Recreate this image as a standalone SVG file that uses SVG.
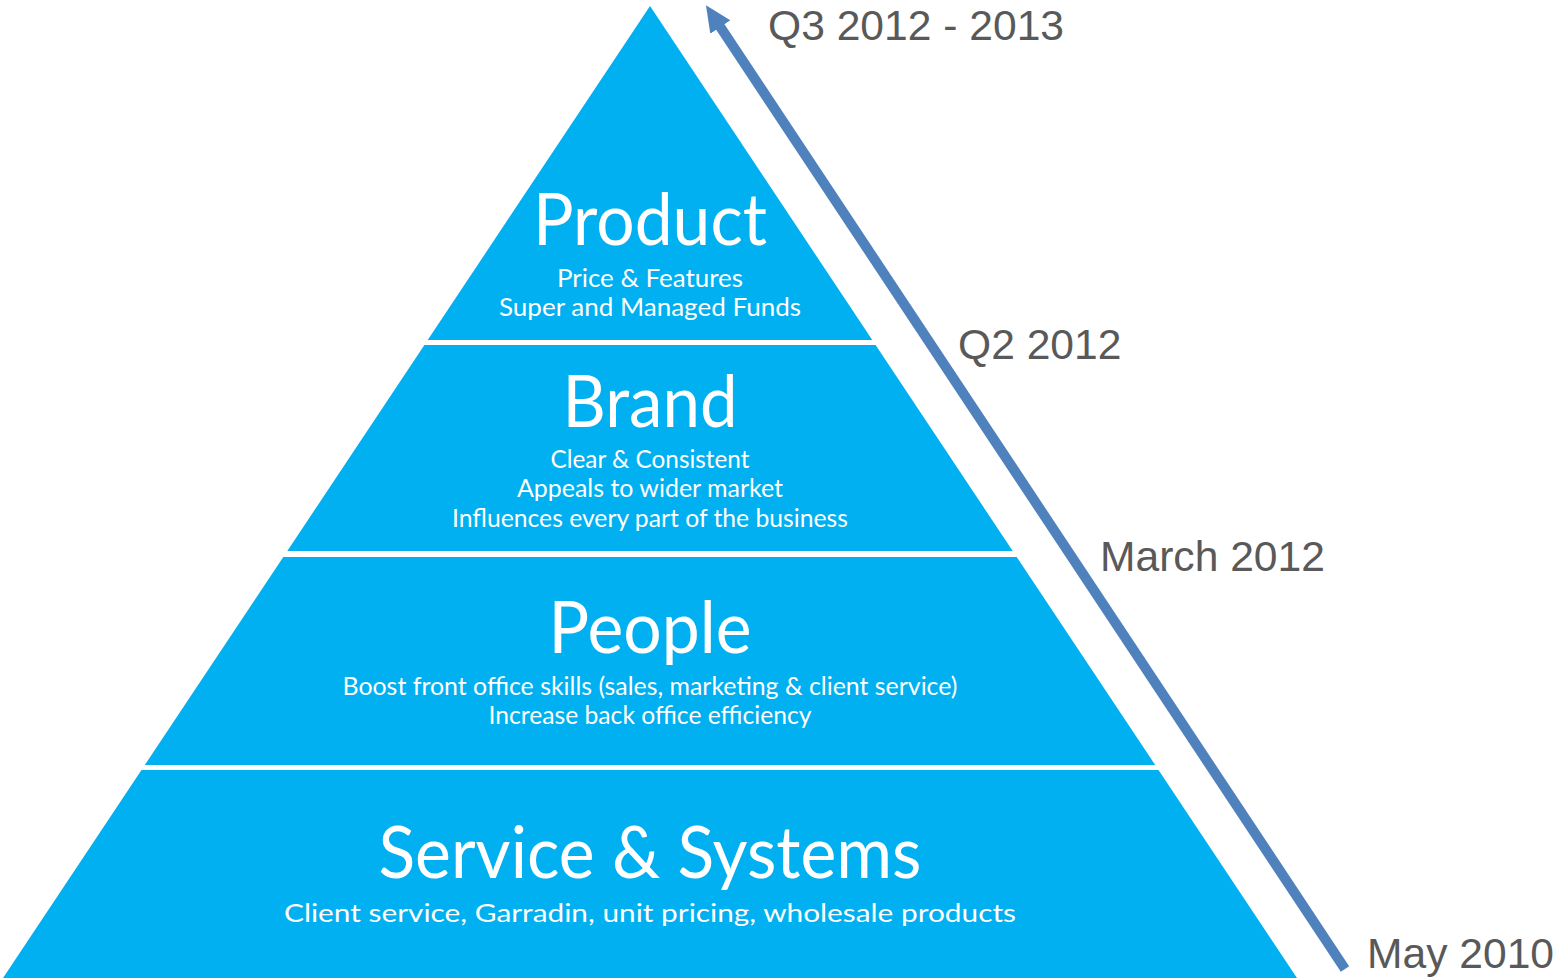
<svg xmlns="http://www.w3.org/2000/svg" width="1556" height="978" viewBox="0 0 1556 978">
  <style>
    .layer { fill: #00B0F0; }
    .title { font-family: Lato, "Open Sans", sans-serif; fill: #FFFFFF; text-anchor: middle; font-size: 72px; }
    .sub { font-family: Lato, "Open Sans", sans-serif; fill: #FFFFFF; text-anchor: middle; font-size: 25px; }
    .date { font-family: "Liberation Sans", Arial, sans-serif; fill: #595959; font-size: 42.6px; }
    .timeline { stroke: #4F81BD; stroke-width: 10; fill: none; }
  </style>
  <defs>
    <marker id="head" markerUnits="userSpaceOnUse" markerWidth="30" markerHeight="30" viewBox="0 0 30 30" refX="6" refY="15" orient="auto">
      <path d="M0,3 L26,15 L0,27 Z" fill="#4F81BD"/>
    </marker>
  </defs>

  <!-- pyramid tiers, top to bottom -->
  <g id="product">
    <polygon class="layer" points="650,6 872.3,340 427.7,340"/>
    <text class="title" x="650" y="245" textLength="234" lengthAdjust="spacingAndGlyphs">Product</text>
    <text class="sub" x="650" y="287" textLength="186" lengthAdjust="spacingAndGlyphs">Price &amp; Features</text>
    <text class="sub" x="650" y="316" textLength="302" lengthAdjust="spacingAndGlyphs">Super and Managed Funds</text>
  </g>
  <g id="brand">
    <polygon class="layer" points="424.4,345 875.6,345 1012.7,551 287.3,551"/>
    <text class="title" x="650" y="427" textLength="175" lengthAdjust="spacingAndGlyphs">Brand</text>
    <text class="sub" x="650" y="468" textLength="199" lengthAdjust="spacingAndGlyphs">Clear &amp; Consistent</text>
    <text class="sub" x="650" y="497" textLength="266" lengthAdjust="spacingAndGlyphs">Appeals to wider market</text>
    <text class="sub" x="650" y="527" textLength="396" lengthAdjust="spacingAndGlyphs">Influences every part of the business</text>
  </g>
  <g id="people">
    <polygon class="layer" points="283.3,557 1016.7,557 1155.2,765 144.8,765"/>
    <text class="title" x="650" y="653" textLength="203" lengthAdjust="spacingAndGlyphs">People</text>
    <text class="sub" x="650" y="695" textLength="615" lengthAdjust="spacingAndGlyphs">Boost front office skills (sales, marketing &amp; client service)</text>
    <text class="sub" x="650" y="724" textLength="323" lengthAdjust="spacingAndGlyphs">Increase back office efficiency</text>
  </g>
  <g id="service-systems">
    <polygon class="layer" points="141.5,770 1158.5,770 1297,978 3,978"/>
    <text class="title" x="650" y="878" textLength="543" lengthAdjust="spacingAndGlyphs">Service &amp; Systems</text>
    <text class="sub" x="650" y="922" textLength="732" lengthAdjust="spacingAndGlyphs">Client service, Garradin, unit pricing, wholesale products</text>
  </g>

  <!-- timeline arrow running up the right flank -->
  <g id="connectors">
    <line class="timeline" x1="1345" y1="969" x2="717" y2="22" marker-end="url(#head)"/>
  </g>

  <!-- milestone dates -->
  <g id="dates">
    <text class="date" x="768" y="40">Q3 2012 - 2013</text>
    <text class="date" x="958" y="359">Q2 2012</text>
    <text class="date" x="1100" y="571">March 2012</text>
    <text class="date" x="1367" y="968">May 2010</text>
  </g>
</svg>
